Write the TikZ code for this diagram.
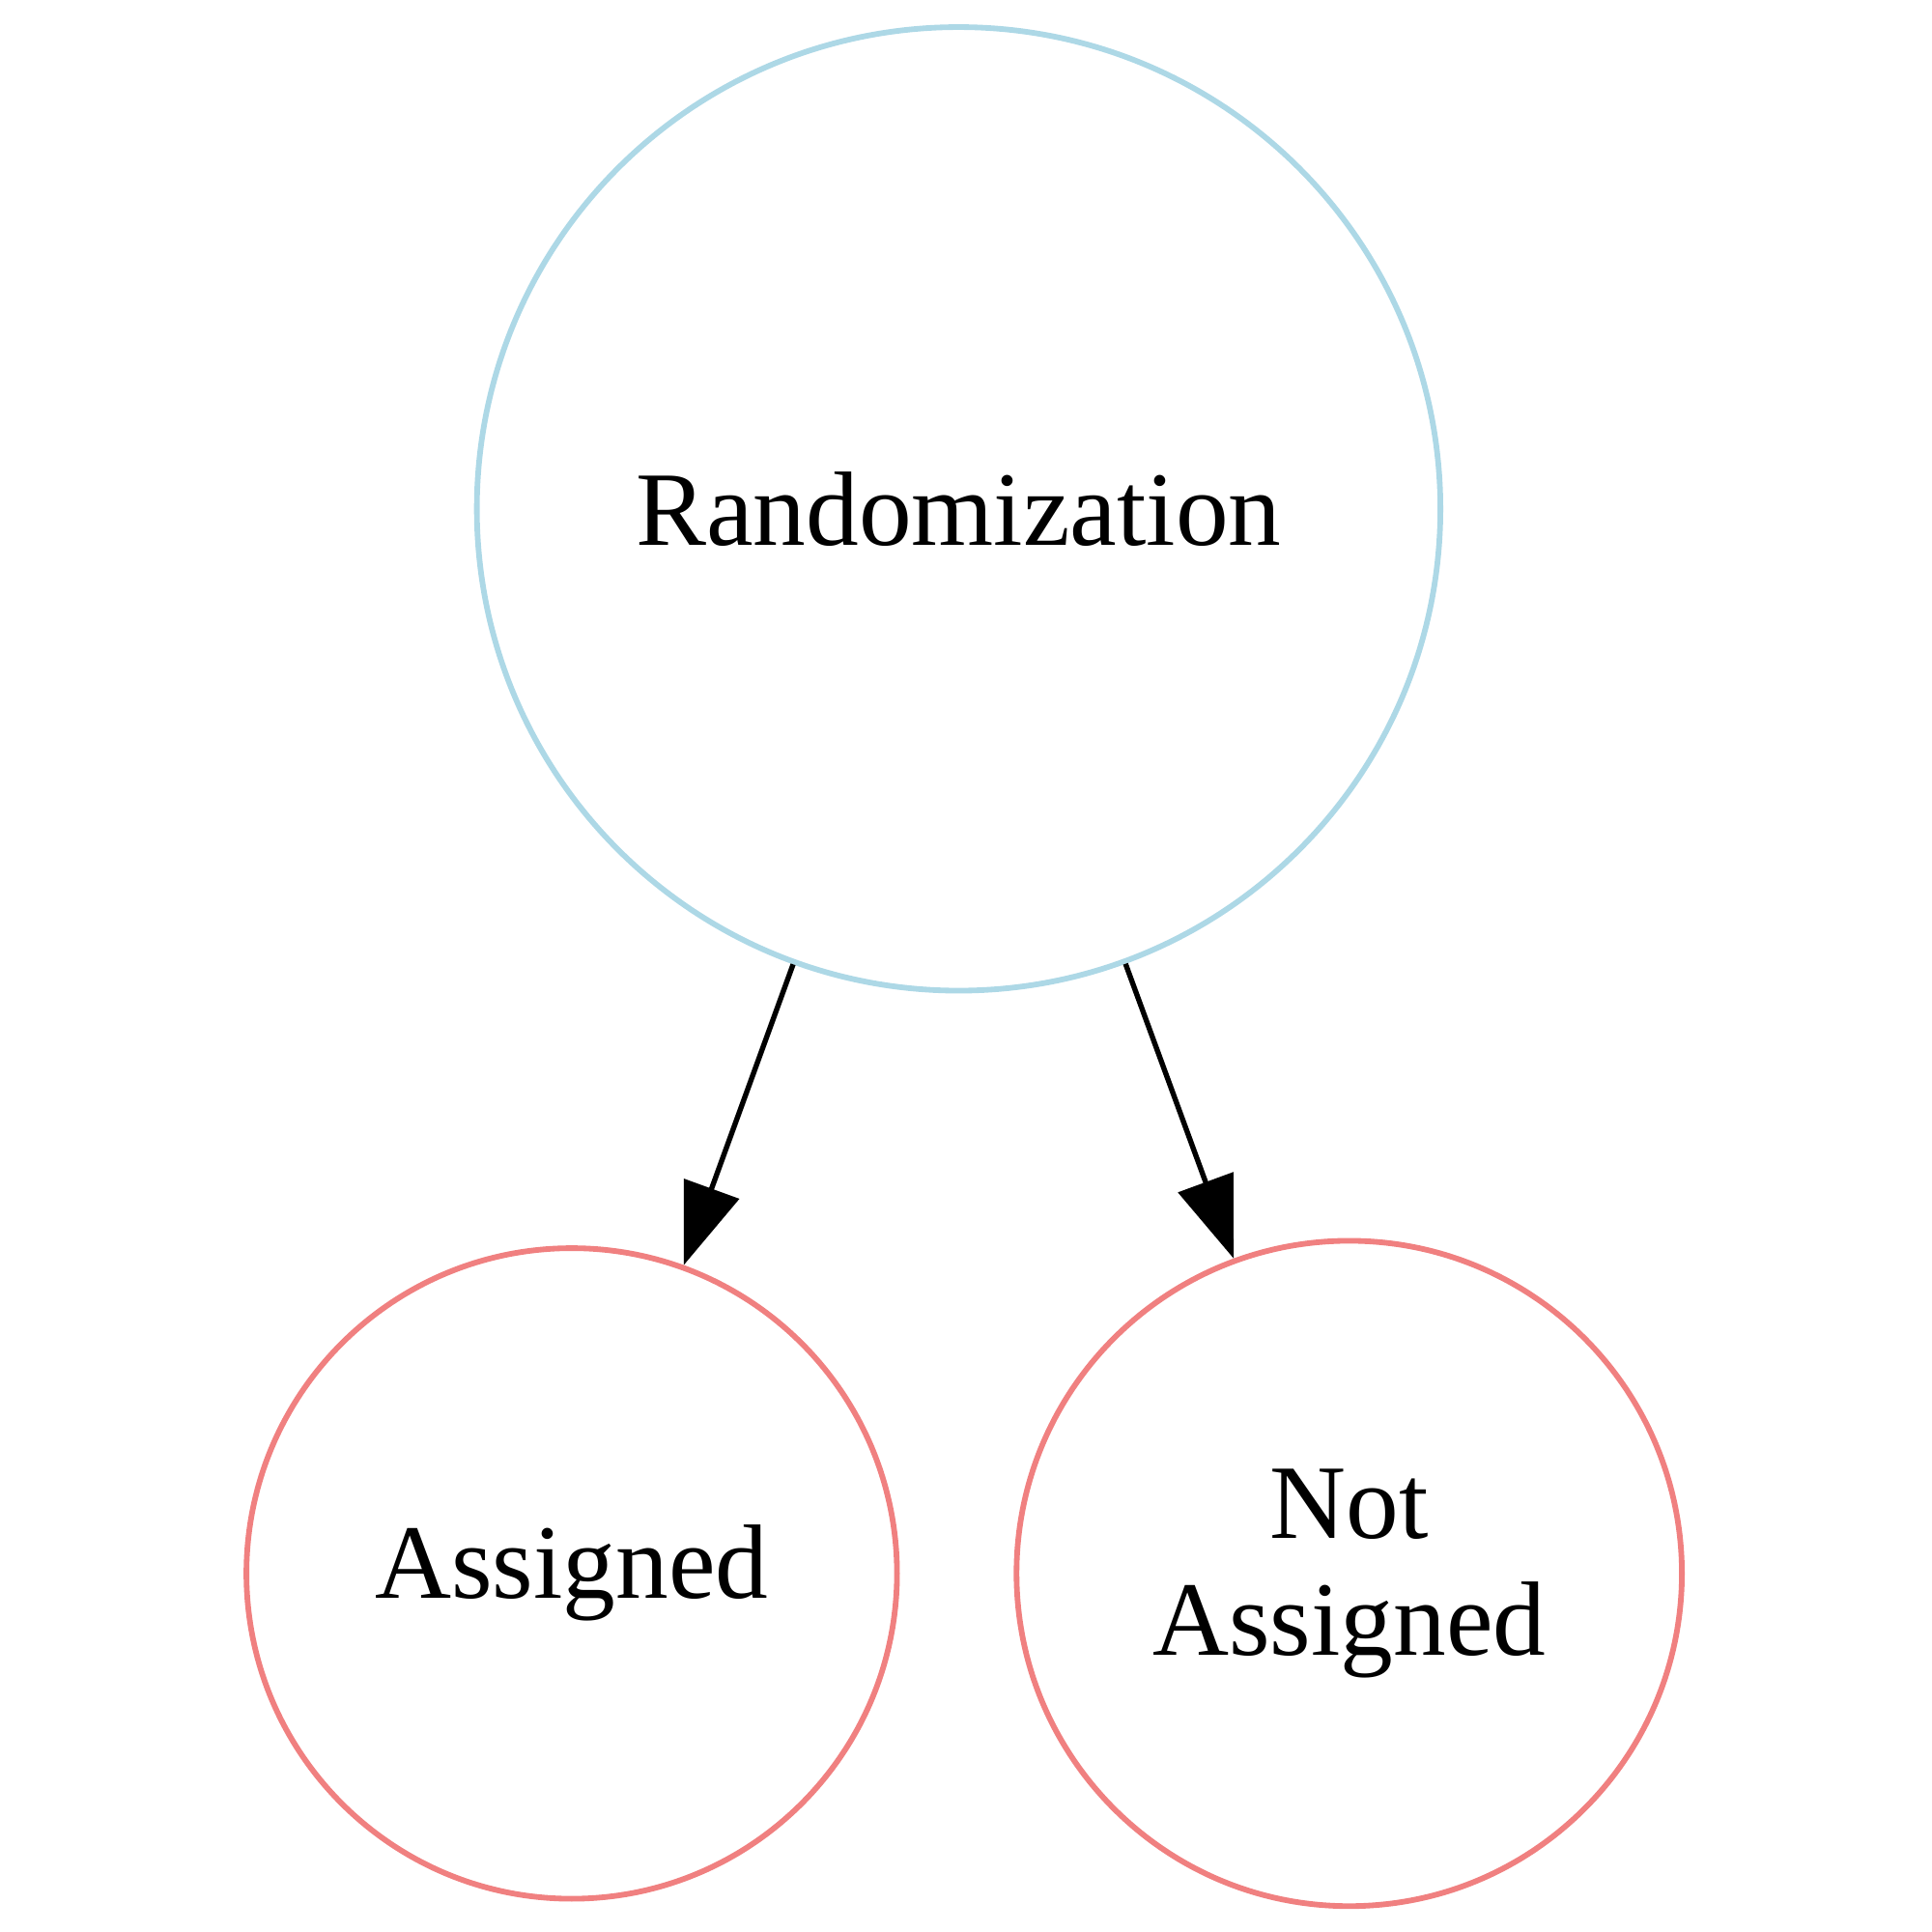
\documentclass[tikz,border=0pt]{standalone}
\usepackage{fontspec}
\setmainfont{Liberation Serif}
\usetikzlibrary{arrows.meta}
\definecolor{lblue}{RGB}{173,216,230}
\definecolor{lcoral}{RGB}{240,128,128}
\tikzset{
  gnode/.style={circle, draw, line width=1.3pt, align=center, inner sep=0pt,
    font=\fontsize{24.4}{27}\selectfont},
  topnode/.style={gnode, draw=lblue, minimum size=7.82cm},
  leafnode/.style={gnode, draw=lcoral},
  edge/.style={line width=1.2pt, -{Triangle[length=0.66cm,width=0.47cm]}}
}
\begin{document}
\begin{tikzpicture}
\useasboundingbox (0,0) rectangle (15.68,-15.68);
\node[topnode] (R) at (7.78,-4.13) {Randomization};
\node[leafnode, minimum size=5.28cm] (A) at (4.64,-12.77) {Assigned};
\node[leafnode, minimum size=5.40cm] (N) at (10.95,-12.77) {Not\\Assigned};
\draw[edge] (R) -- (A);
\draw[edge] (R) -- (N);
\end{tikzpicture}
\end{document}
